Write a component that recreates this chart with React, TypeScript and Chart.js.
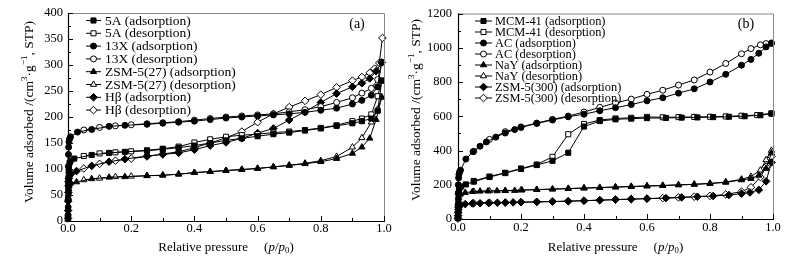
import React, { useEffect, useRef } from 'react';
import { Chart, registerables } from 'chart.js';

Chart.register(...registerables);

const FONT = '"Liberation Serif", "Times New Roman", serif';

// ---------- Panel (a) data ----------
const pAds_a5A = [0, 0.0003, 0.0006, 0.001, 0.0015, 0.002, 0.003, 0.005, 0.008, 0.02, 0.075, 0.13, 0.18, 0.25, 0.3, 0.35, 0.4, 0.45, 0.5, 0.55, 0.6, 0.65, 0.7, 0.75, 0.8, 0.85, 0.9, 0.93, 0.96, 0.98, 0.993];
const vAds_a5A = [5, 25, 45, 65, 82, 95, 105, 112, 116, 120, 127, 131, 133, 135, 138, 141, 145, 150, 155, 159, 163, 167, 170, 174, 178, 183, 188, 192, 197, 212, 270];
const pDes_a = [0.993, 0.98, 0.96, 0.93, 0.9, 0.85, 0.8, 0.75, 0.7, 0.65, 0.6, 0.55, 0.5, 0.45, 0.4, 0.35, 0.3, 0.25, 0.2, 0.15, 0.1, 0.05];
const vDes_a5A = [270, 240, 205, 197, 192, 184, 179, 175, 172, 170, 167, 165, 162, 157, 151, 143, 139, 136, 134, 132, 130, 125];

const pAds_a13X = [0, 0.0003, 0.0006, 0.001, 0.0015, 0.002, 0.003, 0.005, 0.008, 0.03, 0.075, 0.13, 0.18, 0.25, 0.3, 0.35, 0.4, 0.45, 0.5, 0.55, 0.6, 0.65, 0.7, 0.75, 0.8, 0.85, 0.9, 0.93, 0.96, 0.98, 0.993];
const vAds_a13X = [10, 40, 75, 105, 128, 142, 152, 158, 162, 171, 176, 182, 184, 186, 188, 190, 192, 195, 198, 200, 202, 204, 206, 209, 213, 217, 225, 232, 242, 258, 305];
const vDes_a13X = [305, 272, 255, 246, 237, 228, 220, 214, 210, 206, 204, 202, 200, 197, 194, 191, 189, 187, 185, 183, 180, 175];

const pAds_aZSM = [0, 0.0003, 0.0006, 0.001, 0.0015, 0.002, 0.003, 0.005, 0.008, 0.027, 0.075, 0.13, 0.18, 0.25, 0.3, 0.35, 0.4, 0.45, 0.5, 0.55, 0.6, 0.65, 0.7, 0.75, 0.8, 0.85, 0.9, 0.93, 0.955, 0.975, 0.993];
const vAds_aZSM = [3, 15, 30, 45, 55, 62, 67, 71, 73, 75, 81, 84, 85, 87, 88, 90, 93, 95, 97, 99, 101, 104, 107, 110, 114, 120, 130, 142, 159, 195, 238];
const vDes_aZSM = [238, 215, 190, 160, 142, 124, 116, 111, 107, 104, 101, 99, 97, 95, 93, 90, 88, 87, 86, 85, 82, 79];

const pAds_aHB = [0, 0.0003, 0.0006, 0.001, 0.0015, 0.002, 0.003, 0.005, 0.01, 0.027, 0.075, 0.13, 0.18, 0.25, 0.3, 0.35, 0.4, 0.45, 0.5, 0.55, 0.6, 0.65, 0.7, 0.75, 0.8, 0.85, 0.9, 0.93, 0.955, 0.975, 0.993];
const vAds_aHB = [5, 20, 38, 55, 68, 76, 82, 87, 91, 96, 106, 114, 119, 125, 128, 131, 137, 145, 151, 159, 169, 178, 194, 210, 228, 245, 258, 265, 274, 288, 305];
const pDes_aHB = [0.995, 0.985, 0.97, 0.955, 0.93, 0.9, 0.85, 0.8, 0.75, 0.7, 0.65, 0.6, 0.55, 0.5, 0.45, 0.4, 0.35, 0.3, 0.25, 0.2, 0.15, 0.1, 0.05];
const vDes_aHB = [352, 304, 293, 285, 277, 270, 257, 243, 231, 219, 206, 190, 172, 160, 150, 141, 133, 129, 124, 120, 116, 110, 101];

// ---------- Panel (b) data ----------
const pAds_bMCM = [0, 0.0003, 0.0006, 0.001, 0.002, 0.003, 0.005, 0.01, 0.025, 0.05, 0.1, 0.15, 0.2, 0.25, 0.3, 0.35, 0.4, 0.45, 0.5, 0.55, 0.6, 0.66, 0.71, 0.76, 0.81, 0.86, 0.91, 0.96, 0.995];
const vAds_bMCM = [5, 40, 80, 115, 150, 168, 180, 190, 202, 218, 245, 268, 292, 315, 340, 387, 540, 572, 582, 586, 589, 590, 592, 593, 595, 597, 600, 606, 615];
const pDes_bMCM = [0.995, 0.95, 0.9, 0.85, 0.8, 0.75, 0.7, 0.65, 0.6, 0.55, 0.5, 0.45, 0.4, 0.35, 0.3, 0.25, 0.2, 0.15, 0.1, 0.05];
const vDes_bMCM = [617, 607, 603, 599, 597, 596, 595, 594, 596, 591, 587, 578, 555, 495, 363, 318, 295, 270, 248, 222];

const pAds_bAC = [0, 0.0003, 0.0006, 0.001, 0.002, 0.003, 0.005, 0.008, 0.025, 0.048, 0.07, 0.09, 0.12, 0.15, 0.18, 0.2, 0.25, 0.3, 0.35, 0.4, 0.45, 0.5, 0.55, 0.6, 0.65, 0.7, 0.75, 0.8, 0.85, 0.9, 0.93, 0.955, 0.978, 0.995];
const vAds_bAC = [10, 80, 150, 200, 240, 260, 275, 285, 350, 393, 425, 450, 478, 502, 522, 535, 558, 578, 597, 612, 632, 650, 668, 690, 708, 735, 760, 800, 845, 898, 932, 968, 1005, 1025];
const pDes_b = [0.995, 0.978, 0.96, 0.93, 0.9, 0.85, 0.8, 0.75, 0.7, 0.65, 0.6, 0.55, 0.5, 0.45, 0.4, 0.35, 0.3, 0.25, 0.2, 0.15, 0.1, 0.05];
const vDes_bAC = [1028, 1024, 1017, 995, 965, 908, 858, 812, 782, 752, 728, 700, 678, 652, 625, 601, 582, 560, 538, 510, 465, 395];

const pAds_bNaY = [0, 0.0003, 0.0006, 0.001, 0.002, 0.004, 0.008, 0.023, 0.046, 0.07, 0.095, 0.124, 0.15, 0.18, 0.203, 0.25, 0.3, 0.35, 0.4, 0.45, 0.5, 0.55, 0.6, 0.65, 0.7, 0.75, 0.8, 0.85, 0.9, 0.93, 0.955, 0.978, 0.995];
const vAds_bNaY = [5, 40, 75, 100, 125, 140, 148, 154, 160, 162, 163, 164, 165, 166, 169, 171, 174, 177, 180, 183, 186, 189, 192, 195, 199, 202, 207, 214, 228, 236, 255, 295, 385];
const vDes_bNaY = [400, 345, 285, 248, 232, 216, 208, 203, 199, 196, 193, 190, 187, 184, 181, 178, 175, 172, 169, 166, 164, 161];

const pAds_bZSM = [0, 0.0003, 0.0006, 0.001, 0.002, 0.004, 0.008, 0.023, 0.046, 0.07, 0.097, 0.125, 0.15, 0.175, 0.2, 0.25, 0.3, 0.35, 0.4, 0.45, 0.5, 0.55, 0.6, 0.66, 0.71, 0.76, 0.81, 0.86, 0.9, 0.927, 0.955, 0.978, 0.995];
const vAds_bZSM = [3, 20, 40, 55, 68, 78, 83, 87, 91, 92, 94, 95, 96, 97, 98, 100, 102, 104, 107, 110, 113, 116, 119, 122, 126, 130, 134, 140, 148, 155, 170, 220, 330];
const vDes_bZSM = [365, 305, 245, 185, 160, 143, 135, 130, 126, 122, 119, 116, 113, 110, 107, 104, 102, 100, 98, 96, 95, 92];

// axis ticks
const xMajorTicks = [0, 0.2, 0.4, 0.6, 0.8, 1.0];
const xMinorTicks = [0.1, 0.3, 0.5, 0.7, 0.9];
const yMajor_a = [0, 50, 100, 150, 200, 250, 300, 350, 400];
const yMinor_a = [25, 75, 125, 175, 225, 275, 325, 375];
const yMajor_b = [0, 200, 400, 600, 800, 1000, 1200];
const yMinor_b = [100, 300, 500, 700, 900, 1100];

type Shape = 'rect' | 'circle' | 'triangle' | 'rectRot';
type Series = { label: string; p: number[]; v: number[]; shape: Shape; filled: boolean };

const seriesA: Series[] = [
  { label: '5A (adsorption)', p: pAds_a5A, v: vAds_a5A, shape: 'rect', filled: true },
  { label: '5A (desorption)', p: pDes_a, v: vDes_a5A, shape: 'rect', filled: false },
  { label: '13X (adsorption)', p: pAds_a13X, v: vAds_a13X, shape: 'circle', filled: true },
  { label: '13X (desorption)', p: pDes_a, v: vDes_a13X, shape: 'circle', filled: false },
  { label: 'ZSM-5(27) (adsorption)', p: pAds_aZSM, v: vAds_aZSM, shape: 'triangle', filled: true },
  { label: 'ZSM-5(27) (desorption)', p: pDes_a, v: vDes_aZSM, shape: 'triangle', filled: false },
  { label: 'Hβ (adsorption)', p: pAds_aHB, v: vAds_aHB, shape: 'rectRot', filled: true },
  { label: 'Hβ (desorption)', p: pDes_aHB, v: vDes_aHB, shape: 'rectRot', filled: false },
];

const seriesB: Series[] = [
  { label: 'MCM-41 (adsorption)', p: pAds_bMCM, v: vAds_bMCM, shape: 'rect', filled: true },
  { label: 'MCM-41 (desorption)', p: pDes_bMCM, v: vDes_bMCM, shape: 'rect', filled: false },
  { label: 'AC (adsorption)', p: pAds_bAC, v: vAds_bAC, shape: 'circle', filled: true },
  { label: 'AC (desorption)', p: pDes_b, v: vDes_bAC, shape: 'circle', filled: false },
  { label: 'NaY (adsorption)', p: pAds_bNaY, v: vAds_bNaY, shape: 'triangle', filled: true },
  { label: 'NaY (desorption)', p: pDes_b, v: vDes_bNaY, shape: 'triangle', filled: false },
  { label: 'ZSM-5(300) (adsorption)', p: pAds_bZSM, v: vAds_bZSM, shape: 'rectRot', filled: true },
  { label: 'ZSM-5(300) (desorption)', p: pDes_b, v: vDes_bZSM, shape: 'rectRot', filled: false },
];

const RADIUS: Record<Shape, number> = { rect: 3.6, circle: 3, triangle: 3.6, rectRot: 3.8 };

function drawMarker(ctx: CanvasRenderingContext2D, shape: Shape, filled: boolean, x: number, y: number) {
  const r = RADIUS[shape];
  ctx.beginPath();
  if (shape === 'rect') {
    const s = Math.SQRT1_2 * r;
    ctx.rect(x - s, y - s, 2 * s, 2 * s);
  } else if (shape === 'circle') {
    ctx.arc(x, y, r, 0, Math.PI * 2);
  } else if (shape === 'triangle') {
    let rad = 0;
    ctx.moveTo(x + Math.sin(rad) * r, y - Math.cos(rad) * r);
    rad += (2 * Math.PI) / 3;
    ctx.lineTo(x + Math.sin(rad) * r, y - Math.cos(rad) * r);
    rad += (2 * Math.PI) / 3;
    ctx.lineTo(x + Math.sin(rad) * r, y - Math.cos(rad) * r);
  } else {
    ctx.moveTo(x - r, y);
    ctx.lineTo(x, y - r);
    ctx.lineTo(x + r, y);
    ctx.lineTo(x, y + r);
  }
  ctx.closePath();
  ctx.fillStyle = filled ? '#000' : '#fff';
  ctx.fill();
  ctx.lineWidth = 1;
  ctx.strokeStyle = '#000';
  ctx.stroke();
}

type Seg = { t: string; italic?: boolean; script?: 'sup' | 'sub'; gap?: number };

function drawRich(ctx: CanvasRenderingContext2D, segs: Seg[], size: number, cx: number, cy: number, rotate: boolean) {
  ctx.save();
  ctx.translate(cx, cy);
  if (rotate) ctx.rotate(-Math.PI / 2);
  const fontFor = (s: Seg) => `${s.italic ? 'italic ' : ''}${s.script ? size * 0.68 : size}px ${FONT}`;
  let total = 0;
  const widths = segs.map((s) => {
    if (s.gap) { total += s.gap; return s.gap; }
    ctx.font = fontFor(s);
    const w = ctx.measureText(s.t).width;
    total += w;
    return w;
  });
  let x = -total / 2;
  ctx.textBaseline = 'alphabetic';
  ctx.textAlign = 'left';
  ctx.fillStyle = '#000';
  segs.forEach((s, i) => {
    if (!s.gap) {
      ctx.font = fontFor(s);
      const dy = s.script === 'sup' ? -size * 0.4 : s.script === 'sub' ? size * 0.22 : 0;
      ctx.fillText(s.t, x, size * 0.35 + dy);
    }
    x += widths[i];
  });
  ctx.restore();
}

type PanelCfg = {
  series: Series[];
  width: number;
  yMax: number;
  yStep: number;
  yMajor: number[];
  yMinor: number[];
  yAxisWidth: number;
  xAxisHeight: number;
  padRight: number;
  yLabelPad: number;
  xLabelPad: number;
  legendX0: number;
  legendX1: number;
  legendTextX: number;
  legendY0: number;
  legendDY: number;
  legendFont: number;
  tag: string;
  tagX: number;
  tagY: number;
  yTitleX: number;
  yTitleY: number;
  yTitleSize: number;
};

const panelA: PanelCfg = {
  series: seriesA, width: 400, yMax: 400, yStep: 50, yMajor: yMajor_a, yMinor: yMinor_a,
  yAxisWidth: 68, xAxisHeight: 42, padRight: 16, yLabelPad: 5, xLabelPad: 0,
  legendX0: 86, legendX1: 101, legendTextX: 105, legendY0: 20.5, legendDY: 12.8, legendFont: 13.5,
  tag: '(a)', tagX: 357, tagY: 24.5, yTitleX: 28, yTitleY: 112, yTitleSize: 13.5,
};

const panelB: PanelCfg = {
  series: seriesB, width: 401, yMax: 1200, yStep: 200, yMajor: yMajor_b, yMinor: yMinor_b,
  yAxisWidth: 58, xAxisHeight: 44, padRight: 28, yLabelPad: 6, xLabelPad: 1.5,
  legendX0: 75, legendX1: 92, legendTextX: 95, legendY0: 21, legendDY: 11, legendFont: 12.4,
  tag: '(b)', tagX: 346, tagY: 24, yTitleX: 15, yTitleY: 110, yTitleSize: 13.5,
};

function Panel({ cfg }: { cfg: PanelCfg }) {
  const ref = useRef<HTMLCanvasElement | null>(null);
  useEffect(() => {
    if (!ref.current) return;
    const decor = {
      id: 'decor',
      afterDraw(chart: any) {
        const ctx: CanvasRenderingContext2D = chart.ctx;
        const { left, right, top, bottom } = chart.chartArea;
        const xs = chart.scales.x;
        const ys = chart.scales.y;
        ctx.save();
        // frame
        ctx.lineWidth = 1;
        ctx.strokeStyle = '#888';
        ctx.beginPath();
        ctx.moveTo(left, top + 0.5);
        ctx.lineTo(right + 0.5, top + 0.5);
        ctx.lineTo(right + 0.5, bottom);
        ctx.stroke();
        ctx.strokeStyle = '#000';
        ctx.lineWidth = 1.2;
        ctx.beginPath();
        ctx.moveTo(left + 0.5, top);
        ctx.lineTo(left + 0.5, bottom + 0.5);
        ctx.lineTo(right + 1, bottom + 0.5);
        ctx.stroke();
        // inward ticks
        ctx.lineWidth = 1;
        ctx.beginPath();
        xMajorTicks.forEach((v) => {
          const px = Math.round(xs.getPixelForValue(v)) + 0.5;
          ctx.moveTo(px, bottom); ctx.lineTo(px, bottom - 5);
        });
        xMinorTicks.forEach((v) => {
          const px = Math.round(xs.getPixelForValue(v)) + 0.5;
          ctx.moveTo(px, bottom); ctx.lineTo(px, bottom - 3);
        });
        cfg.yMajor.forEach((v) => {
          const py = Math.round(ys.getPixelForValue(v)) + 0.5;
          ctx.moveTo(left, py); ctx.lineTo(left + 5, py);
        });
        cfg.yMinor.forEach((v) => {
          const py = Math.round(ys.getPixelForValue(v)) + 0.5;
          ctx.moveTo(left, py); ctx.lineTo(left + 3, py);
        });
        ctx.stroke();
        // legend
        cfg.series.forEach((s, i) => {
          const y = cfg.legendY0 + i * cfg.legendDY;
          ctx.strokeStyle = '#000';
          ctx.lineWidth = 1;
          ctx.beginPath();
          ctx.moveTo(cfg.legendX0, y);
          ctx.lineTo(cfg.legendX1, y);
          ctx.stroke();
          drawMarker(ctx, s.shape, s.filled, (cfg.legendX0 + cfg.legendX1) / 2, y);
          ctx.fillStyle = '#000';
          ctx.font = `${cfg.legendFont}px ${FONT}`;
          ctx.textAlign = 'left';
          ctx.textBaseline = 'middle';
          ctx.fillText(s.label, cfg.legendTextX, y + 0.5);
        });
        // tag
        ctx.font = `14px ${FONT}`;
        ctx.textAlign = 'center';
        ctx.textBaseline = 'middle';
        ctx.fillText(cfg.tag, cfg.tagX, cfg.tagY);
        ctx.restore();
        // y title
        drawRich(ctx, [
          { t: 'Volume adsorbed /(cm' },
          { t: '3', script: 'sup' },
          { t: '·g' },
          { t: '−1', script: 'sup' },
          { t: ', STP)' },
        ], cfg.yTitleSize, cfg.yTitleX, cfg.yTitleY, true);
        // x title
        drawRich(ctx, [
          { t: 'Relative pressure' },
          { t: '', gap: 16 },
          { t: '(' },
          { t: 'p', italic: true },
          { t: '/' },
          { t: 'p', italic: true },
          { t: '0', script: 'sub' },
          { t: ')' },
        ], 13, (left + right) / 2, 246, false);
      },
    };

    const chart = new Chart(ref.current, {
      type: 'line',
      data: {
        datasets: cfg.series.map((s) => ({
          label: s.label,
          data: s.p.map((x, i) => ({ x, y: s.v[i] })),
          borderColor: '#000',
          borderWidth: 1,
          backgroundColor: s.filled ? '#000' : '#fff',
          pointStyle: s.shape,
          pointRadius: RADIUS[s.shape],
          pointBackgroundColor: s.filled ? '#000' : '#fff',
          pointBorderColor: '#000',
          pointBorderWidth: 1,
          tension: 0,
          fill: false,
          clip: false,
        })),
      },
      options: {
        animation: false,
        responsive: false,
        devicePixelRatio: 1,
        events: [],
        layout: { padding: { left: 0, top: 13, right: cfg.padRight, bottom: 0 } },
        plugins: { legend: { display: false }, tooltip: { enabled: false }, title: { display: false } },
        scales: {
          x: {
            type: 'linear',
            min: 0,
            max: 1,
            grid: { display: false, drawTicks: false },
            border: { display: false },
            ticks: {
              stepSize: 0.2,
              autoSkip: false,
              maxRotation: 0,
              padding: cfg.xLabelPad,
              color: '#000',
              font: { family: FONT, size: 12.5 },
              callback: (v: any) => Number(v).toFixed(1),
            },
            afterFit: (scale: any) => { scale.height = cfg.xAxisHeight; },
          },
          y: {
            type: 'linear',
            min: 0,
            max: cfg.yMax,
            grid: { display: false, drawTicks: false },
            border: { display: false },
            ticks: {
              stepSize: cfg.yStep,
              autoSkip: false,
              padding: cfg.yLabelPad,
              color: '#000',
              font: { family: FONT, size: 12.5 },
              callback: (v: any) => String(v),
            },
            afterFit: (scale: any) => { scale.width = cfg.yAxisWidth; },
          },
        },
      },
      plugins: [decor],
    } as any);
    return () => chart.destroy();
  }, [cfg]);
  return <canvas ref={ref} width={cfg.width} height={263} style={{ display: 'block', width: cfg.width, height: 263 }} />;
}

export default function App() {
  return (
    <div style={{ position: 'absolute', left: 0, top: 0, width: 801, height: 263, background: '#fff', display: 'flex' }}>
      <Panel cfg={panelA} />
      <Panel cfg={panelB} />
    </div>
  );
}
